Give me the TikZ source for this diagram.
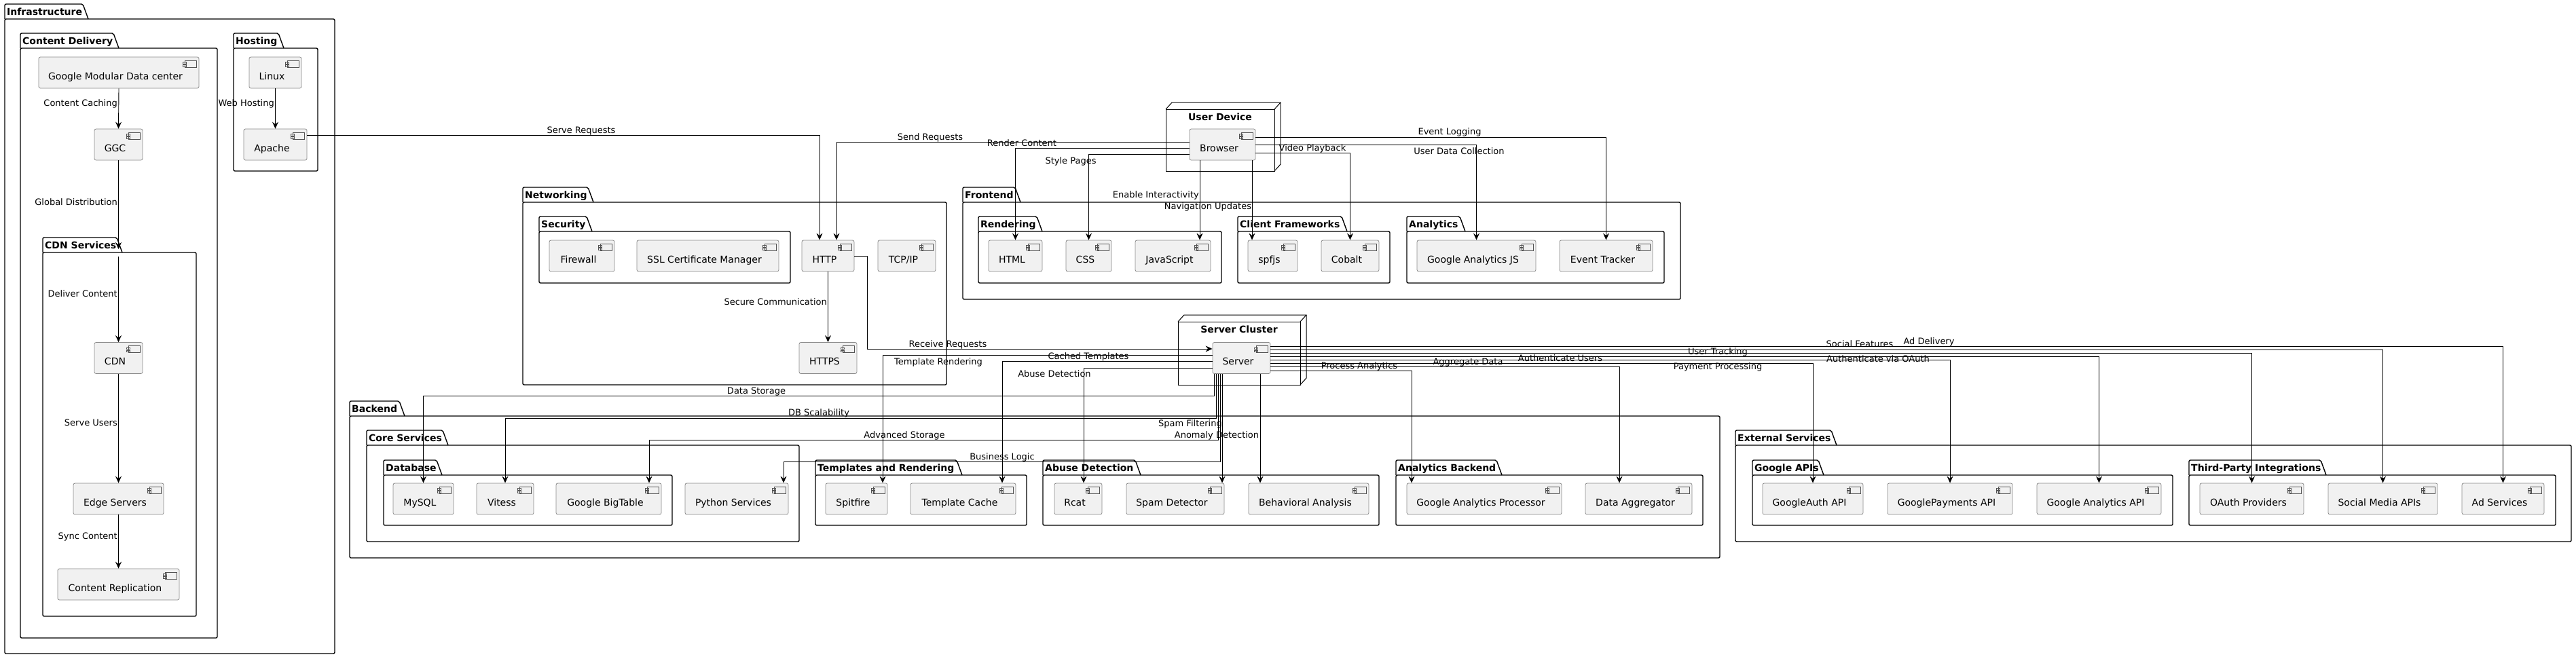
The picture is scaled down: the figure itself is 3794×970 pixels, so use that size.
\documentclass[tikz,border=0pt]{standalone}
\usepackage{fontspec}
\setmainfont{DejaVu Sans}
\usetikzlibrary{arrows.meta}

\definecolor{compfill}{HTML}{F1F1F1}
\definecolor{compline}{HTML}{8A8A8A}

\tikzset{
  comp/.style={draw=compline, fill=compfill, rounded corners=2.5pt, line width=0.8pt,
    minimum height=46pt, inner sep=0pt, text height=20pt, text depth=0pt,
    font=\fontsize{14}{16}\selectfont, execute at begin node=\hspace*{-10pt},
    path picture={\draw[compline!60!black, line width=0.7pt, fill=compfill, sharp corners]
      ([xshift=-21pt,yshift=-5pt]path picture bounding box.north east) rectangle ([xshift=-4pt,yshift=-15pt]path picture bounding box.north east)
      ([xshift=-23.5pt,yshift=-7.5pt]path picture bounding box.north east) rectangle ++(5pt,-2.5pt)
      ([xshift=-23.5pt,yshift=-11.5pt]path picture bounding box.north east) rectangle ++(5pt,-2.5pt);}},
  pkgline/.style={line width=1.4pt, rounded corners=2pt},
  pkgtitle/.style={anchor=west, inner sep=0pt, text height=10pt, text depth=0pt, font=\fontsize{14}{16}\selectfont\bfseries},
  devtitle/.style={inner sep=0pt, text height=10pt, text depth=0pt, font=\fontsize{14}{16}\selectfont\bfseries},
  lbl/.style={inner sep=0pt, text height=9.5pt, text depth=0pt, font=\fontsize{13}{15}\selectfont},
  arr/.style={line width=0.9pt, -{Stealth[length=10pt,width=9pt,inset=3.5pt]}}
}

% package: name, left, tab end, top, right, bottom, title
\newcommand{\pkg}[7]{%
  \draw[pkgline] (#2,#4+22) -- (#2,#4) -- (#3-8,#4) -- (#3,#4+22);
  \draw[pkgline] (#2,#4+22) rectangle (#5,#6);
  \node[pkgtitle] (#1) at (#2+3,#4+11) {#7};
}
% 3d node: name, left, top, right, bottom, title
\newcommand{\devbox}[6]{%
  \draw[line width=1pt] (#2,#3) rectangle (#4,#5);
  \draw[line width=1pt] (#2,#3) -- ++(9,-10) -- (#4+9,#3-10) -- (#4+9,#5-10) -- (#4,#5);
  \draw[line width=1pt] (#4,#3) -- ++(9,-10);
  \node[devtitle] (#1) at ({(#2+#4)/2},#3+11) {#6};
}

\begin{document}
\begin{tikzpicture}[x=1pt,y=-1pt]
  \useasboundingbox (0,0) rectangle (3794,970);

  % packages
  \pkg{pinfra}{7}{130}{6}{493}{963}{Infrastructure}
  \pkg{pcontent}{30}{175}{49}{320}{940}{Content Delivery}
  \pkg{phosting}{344}{418}{49}{468}{252}{Hosting}
  \pkg{pcdn}{63}{180}{350}{289}{908}{CDN Services}
  \pkg{pnet}{770}{874}{276}{1394}{567}{Networking}
  \pkg{psec}{794}{872}{319}{1164}{417}{Security}
  \pkg{pfront}{1418}{1503}{276}{2475}{441}{Frontend}
  \pkg{prender}{1441}{1535}{319}{1799}{417}{Rendering}
  \pkg{pclient}{1823}{1984}{319}{2047}{417}{Client Frameworks}
  \pkg{panalytics}{2072}{2158}{319}{2451}{417}{Analytics}
  \pkg{pback}{515}{596}{591}{2533}{822}{Backend}
  \pkg{pcore}{540}{660}{634}{1177}{798}{Core Services}
  \pkg{pdb}{565}{651}{678}{990}{774}{Database}
  \pkg{ptempl}{1201}{1417}{678}{1512}{774}{Templates and Rendering}
  \pkg{pabuse}{1536}{1680}{678}{2031}{774}{Abuse Detection}
  \pkg{pabackend}{2056}{2212}{678}{2508}{774}{Analytics Backend}
  \pkg{pext}{2556}{2705}{634}{3787}{798}{External Services}
  \pkg{pgapis}{2581}{2686}{678}{3200}{774}{Google APIs}
  \pkg{pthird}{3224}{3426}{678}{3764}{774}{Third-Party Integrations}

  % nodes
  \devbox{userdev}{1717}{161}{1877}{252}{User Device}
  \devbox{cluster}{1735}{474}{1915}{567}{Server Cluster}

  % components
  \node[comp, minimum width=236pt] (gmdc) at (175,107) {Google Modular Data center};
  \node[comp, minimum width=71pt] (ggc) at (174.5,213) {GGC};
  \node[comp, minimum width=77pt] (linux) at (405.5,107) {Linux};
  \node[comp, minimum width=93pt] (apache) at (405.5,213) {Apache};
  \node[comp, minimum width=71pt] (cdn) at (174.5,527.5) {CDN};
  \node[comp, minimum width=133pt] (edge) at (174.5,735) {Edge Servers};
  \node[comp, minimum width=179pt] (repl) at (174.5,861) {Content Replication};

  \node[comp, minimum width=96pt] (firewall) at (857,377) {Firewall};
  \node[comp, minimum width=209pt] (ssl) at (1042.5,377) {SSL Certificate Manager};
  \node[comp, minimum width=77pt] (http) at (1219.5,377) {HTTP};
  \node[comp, minimum width=85pt] (tcpip) at (1335.5,377) {TCP/IP};
  \node[comp, minimum width=85pt] (https) at (1219.5,527.5) {HTTPS};

  \node[comp, minimum width=97pt] (browser) at (1800.5,213) {Browser};
  \node[comp, minimum width=79pt] (html) at (1495.5,377) {HTML};
  \node[comp, minimum width=67pt] (css) at (1603.5,377) {CSS};
  \node[comp, minimum width=111pt] (js) at (1727.5,377) {JavaScript};
  \node[comp, minimum width=73pt] (spfjs) at (1874.5,377) {spfjs};
  \node[comp, minimum width=85pt] (cobalt) at (1988.5,377) {Cobalt};
  \node[comp, minimum width=175pt] (gajs) at (2174.5,377) {Google Analytics JS};
  \node[comp, minimum width=137pt] (evtr) at (2365.5,377) {Event Tracker};

  \node[comp, minimum width=85pt] (server) at (1828.5,527.5) {Server};
  \node[comp, minimum width=89pt] (mysql) at (623.5,735) {MySQL};
  \node[comp, minimum width=84pt] (vitess) at (744,735) {Vitess};
  \node[comp, minimum width=155pt] (bigtable) at (896.5,735) {Google BigTable};
  \node[comp, minimum width=152pt] (python) at (1085,735) {Python Services};
  \node[comp, minimum width=91pt] (spitfire) at (1261.5,735) {Spitfire};
  \node[comp, minimum width=155pt] (tcache) at (1418.5,735) {Template Cache};
  \node[comp, minimum width=70pt] (rcat) at (1588,735) {Rcat};
  \node[comp, minimum width=144pt] (spam) at (1731,735) {Spam Detector};
  \node[comp, minimum width=177pt] (behav) at (1927.5,735) {Behavioral Analysis};
  \node[comp, minimum width=228pt] (gaproc) at (2186,735) {Google Analytics Processor};
  \node[comp, minimum width=157pt] (daggr) at (2413.5,735) {Data Aggregator};

  \node[comp, minimum width=148pt] (gauth) at (2670,735) {GoogleAuth API};
  \node[comp, minimum width=184pt] (gpay) at (2872,735) {GooglePayments API};
  \node[comp, minimum width=183pt] (gaapi) at (3091.5,735) {Google Analytics API};
  \node[comp, minimum width=153pt] (oauth) at (3316.5,735) {OAuth Providers};
  \node[comp, minimum width=161pt] (social) at (3509.5,735) {Social Media APIs};
  \node[comp, minimum width=121pt] (adsvc) at (3686.5,735) {Ad Services};

  % infrastructure
  \coordinate (cdnin) at (174.5,367);
  \coordinate (cdnout) at (174.5,378);
  \draw[arr] (gmdc.south) -- (ggc.north);
  \draw[arr] (linux.south) -- (apache.north);
  \draw[arr] (ggc.south) -- (cdnin);
  \draw[arr] (cdnout) -- (cdn.north);
  \draw[arr] (cdn.south) -- (edge.north);
  \draw[arr] (edge.south) -- (repl.north);
  \node[lbl, anchor=east] (lcaching) at (173,152) {Content Caching};
  \node[lbl, anchor=east] (lwebhost) at (404,152) {Web Hosting};
  \node[lbl, anchor=east] (lglobal) at (173,298) {Global Distribution};
  \node[lbl, anchor=east] (ldeliver) at (173,433) {Deliver Content};
  \node[lbl, anchor=east] (lserveu) at (173,623) {Serve Users};
  \node[lbl, anchor=east] (lsync) at (173,790) {Sync Content};

  % networking
  \draw[arr] (apache.east |- 0,199) -| (http.north -| 1207,0);
  \draw[arr] (http.south) -- (https.north);
  \draw[arr] (http.east) -- ++(19,0) |- (server.west |- 0,514);
  \node[lbl] (lservereq) at (856,192) {Serve Requests};
  \node[lbl, anchor=east] (lsecure) at (1218,445) {Secure Communication};
  \node[lbl] (lreceive) at (1396,507) {Receive Requests};

  % browser
  \draw[arr] (browser.west |- 0,209) -| (http.north -| 1232,0);
  \draw[arr] (browser.west |- 0,218) -| (html.north);
  \draw[arr] (browser.west |- 0,227) -| (css.north);
  \draw[arr] (browser.south -| 1767,0) -- (js.north -| 1767,0);
  \draw[arr] (browser.south -| 1844,0) -- (spfjs.north -| 1844,0);
  \draw[arr] (browser.east |- 0,225) -| (cobalt.north);
  \draw[arr] (browser.east |- 0,213) -| (gajs.north);
  \draw[arr] (browser.east |- 0,202) -| (evtr.north);
  \node[lbl] (lsendreq) at (1370,202) {Send Requests};
  \node[lbl] (lrender) at (1505,211) {Render Content};
  \node[lbl] (lstyle) at (1577,237) {Style Pages};
  \node[lbl, anchor=east] (linteract) at (1766,287) {Enable Interactivity};
  \node[lbl] (lnav) at (1779,304) {Navigation Updates};
  \node[lbl] (lvideo) at (1933,218) {Video Playback};
  \node[lbl] (lusrdata) at (2149,223) {User Data Collection};
  \node[lbl] (levent) at (2135,194) {Event Logging};

  % server, left and bottom
  \draw[arr] (server.west |- 0,523) -| (spitfire.north -| 1300,0);
  \draw[arr] (server.west |- 0,532) -| (tcache.north -| 1476,0);
  \draw[arr] (server.west |- 0,542) -| (rcat.north -| 1596,0);
  \draw[arr] (server.south -| 1788,0) |- (mysql.north |- 0,583) -- (mysql.north);
  \draw[arr] (server.south -| 1791,0) |- (vitess.north |- 0,616) -- (vitess.north);
  \draw[arr] (server.south -| 1794,0) |- (956,648) -- (bigtable.north -| 956,0);
  \draw[arr] (server.south -| 1797,0) |- (1154,680) -- (python.north -| 1154,0);
  \draw[arr] (server.south -| 1800,0) -- (spam.north -| 1800,0);
  \draw[arr] (server.south -| 1856,0) -- (behav.north -| 1856,0);
  \node[lbl] (ltemplate) at (1382,533) {Template Rendering};
  \node[lbl] (lcached) at (1603,525) {Cached Templates};
  \node[lbl] (labuse) at (1553,551) {Abuse Detection};
  \node[lbl] (lstorage) at (1114,576) {Data Storage};
  \node[lbl] (ldbscale) at (1206,608) {DB Scalability};
  \node[lbl] (ladvanced) at (1332,641) {Advanced Storage};
  \node[lbl] (lbusiness) at (1476,673) {Business Logic};
  \node[lbl] (lspam) at (1753,624) {Spam Filtering};
  \node[lbl] (lanomaly) at (1792,641) {Anomaly Detection};

  % server, right
  \draw[arr] (server.east |- 0,546) -| (gaproc.north -| 2079,0);
  \draw[arr] (server.east |- 0,540) -| (daggr.north -| 2385,0);
  \draw[arr] (server.east |- 0,535) -| (gauth.north);
  \draw[arr] (server.east |- 0,530) -| (gpay.north);
  \draw[arr] (server.east |- 0,525) -| (gaapi.north);
  \draw[arr] (server.east |- 0,520) -| (oauth.north);
  \draw[arr] (server.east |- 0,515) -| (social.north);
  \draw[arr] (server.east |- 0,510) -| (adsvc.north);
  \node[lbl] (lprocess) at (2002,539) {Process Analytics};
  \node[lbl] (laggr) at (2162,533) {Aggregate Data};
  \node[lbl] (lauthusr) at (2298,528) {Authenticate Users};
  \node[lbl] (lpay) at (2530,540) {Payment Processing};
  \node[lbl] (ltrack) at (2530,518) {User Tracking};
  \node[lbl] (loauth) at (2766,529) {Authenticate via OAuth};
  \node[lbl] (lsocial) at (2739,507) {Social Features};
  \node[lbl] (lads) at (2841,503) {Ad Delivery};
\end{tikzpicture}
\end{document}
